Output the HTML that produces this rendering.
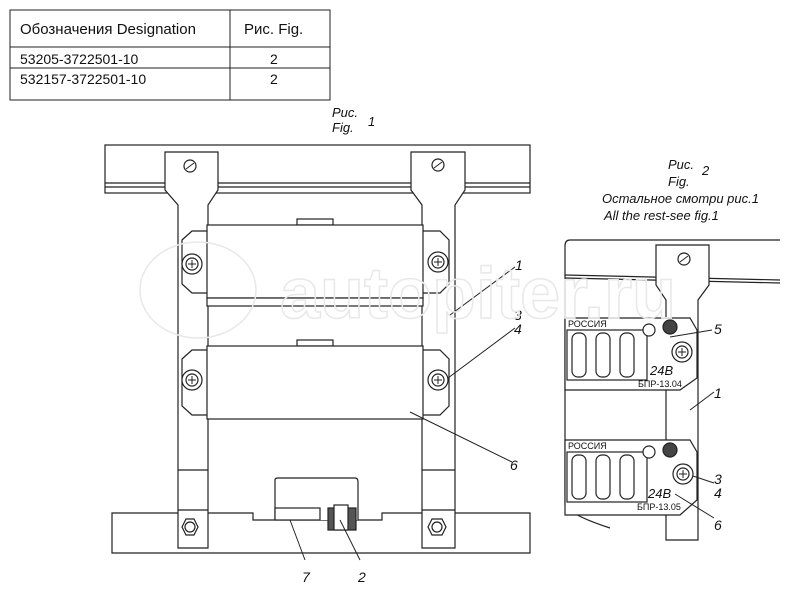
<!DOCTYPE html>
<html><head><meta charset="utf-8"><style>body{margin:0;background:#fff}svg{display:block}text{font-family:"Liberation Sans",sans-serif;fill:#111}</style></head><body>
<svg width="800" height="600" viewBox="0 0 800 600" xmlns="http://www.w3.org/2000/svg">
<g stroke="#222" fill="none" stroke-width="1">
<rect x="10" y="10" width="320" height="90"/>
<line x1="10" y1="47" x2="330" y2="47"/>
<line x1="10" y1="68" x2="330" y2="68"/>
<line x1="230" y1="10" x2="230" y2="100"/>
</g>
<text x="20" y="34" font-size="15">Обозначения Designation</text>
<text x="244" y="34" font-size="15">Рис. Fig.</text>
<text x="20" y="64" font-size="14">53205-3722501-10</text>
<text x="20" y="84" font-size="14">532157-3722501-10</text>
<text x="270" y="64" font-size="14">2</text>
<text x="270" y="84" font-size="14">2</text>
<text x="332" y="117" font-size="13" font-style="italic">Рис.</text>
<text x="332" y="132" font-size="13" font-style="italic">Fig.</text>
<text x="368" y="126" font-size="13" font-style="italic">1</text>
<g stroke="#222" fill="#fff" stroke-width="1.2">
<rect x="105" y="145" width="425" height="48"/>
<line x1="105" y1="183" x2="530" y2="183"/>
<line x1="105" y1="187" x2="530" y2="187"/>
<path d="M112 513 H253 V520 H382 V513 H530 V553 H112 Z"/>
<path d="M165 152 H218 V190 L208 205 V548 H178 V205 L165 190 Z"/>
<path d="M411 152 H465 V190 L455 205 V548 H422 V205 L411 190 Z"/>
<line x1="178" y1="510" x2="208" y2="510"/><line x1="422" y1="510" x2="455" y2="510"/>
<line x1="178" y1="470" x2="208" y2="470"/><line x1="422" y1="470" x2="455" y2="470"/>
<path d="M182 240 L192 231 H210 V293 H192 L182 284 Z"/>
<path d="M422 231 H440 L449 240 V284 L440 293 H422 Z"/>
<path d="M182 359 L192 350 H210 V415 H192 L182 406 Z"/>
<path d="M422 350 H440 L449 359 V406 L440 415 H422 Z"/>
<rect x="297" y="219" width="36" height="6"/>
<rect x="207" y="225" width="216" height="73"/>
<rect x="207" y="298" width="216" height="8"/>
<rect x="297" y="340" width="36" height="6"/>
<rect x="207" y="346" width="216" height="73"/>
<path d="M275 520 V480 Q275 478 278 478 H355 Q358 478 358 482 V520"/>
<rect x="275" y="508" width="45" height="12"/>
<rect x="328" y="508" width="28" height="22" fill="#555"/>
<rect x="334" y="505" width="14" height="25" fill="#fff"/>
</g>
<g stroke="#222" fill="#fff" stroke-width="1.2">
<circle cx="190" cy="166" r="6"/><circle cx="438" cy="165" r="6"/>
<circle cx="192" cy="264" r="10"/><circle cx="192" cy="264" r="6"/>
<circle cx="438" cy="262" r="10"/><circle cx="438" cy="262" r="6"/>
<circle cx="192" cy="380" r="10"/><circle cx="192" cy="380" r="6"/>
<circle cx="438" cy="380" r="10"/><circle cx="438" cy="380" r="6"/>
<polygon points="182,527 186,519 194,519 198,527 194,535 186,535"/><circle cx="190" cy="527" r="5"/>
<polygon points="428,527 432,519 442,519 446,527 442,535 432,535"/><circle cx="437" cy="527" r="5"/>
</g>
<g stroke="#222" stroke-width="1">
<line x1="186" y1="169" x2="194" y2="163"/><line x1="434" y1="168" x2="442" y2="162"/>
<line x1="188" y1="264" x2="196" y2="264"/><line x1="192" y1="260" x2="192" y2="268"/>
<line x1="434" y1="262" x2="442" y2="262"/><line x1="438" y1="258" x2="438" y2="266"/>
<line x1="188" y1="380" x2="196" y2="380"/><line x1="192" y1="376" x2="192" y2="384"/>
<line x1="434" y1="380" x2="442" y2="380"/><line x1="438" y1="376" x2="438" y2="384"/>
<line x1="450" y1="315" x2="515" y2="267"/>
<line x1="448" y1="378" x2="515" y2="328"/>
<line x1="410" y1="412" x2="512" y2="462"/>
<line x1="290" y1="520" x2="305" y2="560"/>
<line x1="340" y1="520" x2="360" y2="560"/>
</g>
<g font-size="14" font-style="italic">
<text x="515" y="270">1</text><text x="514" y="320">3</text><text x="514" y="334">4</text>
<text x="510" y="470">6</text><text x="302" y="582">7</text><text x="358" y="582">2</text>
</g>
<g font-size="13" font-style="italic">
<text x="668" y="169">Рис.</text><text x="668" y="186">Fig.</text><text x="702" y="175">2</text>
<text x="602" y="203">Остальное смотри рис.1</text>
<text x="604" y="220">All the rest-see fig.1</text>
</g>
<g stroke="#222" fill="#fff" stroke-width="1.2">
<path d="M780 240 H570 Q565 240 565 246 V505 Q570 515 610 528" fill="none"/>
<line x1="565" y1="275" x2="780" y2="280"/><line x1="565" y1="278" x2="780" y2="283"/>
<path d="M656 245 H709 V285 L698 300 V540 H666 V300 L656 285 Z"/>
<path d="M565 318 H690 L697 330 V378 L680 390 H565 Z"/>
<path d="M565 440 H690 L697 452 V500 L680 515 H565 Z"/>
<rect x="567" y="330" width="80" height="50"/>
<rect x="567" y="452" width="80" height="50"/>
<rect x="572" y="333" width="14" height="44" rx="6"/><rect x="596" y="333" width="14" height="44" rx="6"/><rect x="620" y="333" width="14" height="44" rx="6"/>
<rect x="572" y="455" width="14" height="44" rx="6"/><rect x="596" y="455" width="14" height="44" rx="6"/><rect x="620" y="455" width="14" height="44" rx="6"/>
<circle cx="649" cy="330" r="6"/><circle cx="670" cy="327" r="7" fill="#444"/>
<circle cx="649" cy="452" r="6"/><circle cx="670" cy="450" r="7" fill="#444"/>
<circle cx="682" cy="352" r="10"/><circle cx="682" cy="352" r="6"/>
<circle cx="683" cy="474" r="10"/><circle cx="683" cy="474" r="6"/>
<circle cx="684" cy="259" r="6"/>
</g>
<g stroke="#222" stroke-width="1">
<line x1="678" y1="352" x2="686" y2="352"/><line x1="682" y1="348" x2="682" y2="356"/>
<line x1="679" y1="474" x2="687" y2="474"/><line x1="683" y1="470" x2="683" y2="478"/>
<line x1="680" y1="262" x2="688" y2="256"/>
<line x1="670" y1="337" x2="712" y2="330"/>
<line x1="690" y1="410" x2="714" y2="392"/>
<line x1="693" y1="476" x2="714" y2="483"/>
<line x1="675" y1="494" x2="714" y2="518"/>
</g>
<g font-size="9"><text x="568" y="327">РОССИЯ</text><text x="568" y="449">РОССИЯ</text>
<text x="638" y="387">БПР-13.04</text><text x="637" y="510">БПР-13.05</text></g>
<g font-size="13" font-style="italic"><text x="650" y="375">24В</text><text x="648" y="498">24В</text></g>
<g font-size="14" font-style="italic">
<text x="714" y="334">5</text><text x="714" y="398">1</text><text x="714" y="484">3</text>
<text x="714" y="498">4</text><text x="714" y="530">6</text>
</g>
<text x="280" y="318" font-size="72" font-weight="bold" style="fill:none;stroke:#e8e8e8" stroke-width="1.5">autopiter.ru</text>
<ellipse cx="198" cy="290" rx="58" ry="48" fill="none" stroke="#e8e8e8" stroke-width="1.5"/>
</svg>
</body></html>
